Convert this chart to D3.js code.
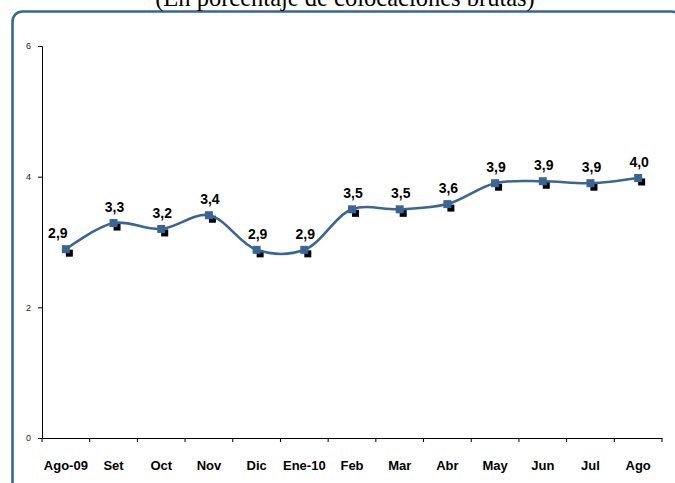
<!DOCTYPE html>
<html>
<head>
<meta charset="utf-8">
<script src="https://cdn.jsdelivr.net/npm/d3@7"></script>
<style>
  html, body { margin: 0; background: #fff; overflow: hidden; }
  svg { display: block; font-family: Arial, "Liberation Sans", sans-serif; }
</style>
</head>
<body>
<svg id="chart" width="675" height="483"></svg>
<script>
// datos
const months = ["Ago-09", "Set", "Oct", "Nov", "Dic", "Ene-10", "Feb", "Mar", "Abr", "May", "Jun", "Jul", "Ago"];
const values = [2.89, 3.29, 3.2, 3.41, 2.88, 2.88, 3.5, 3.5, 3.58, 3.9, 3.93, 3.9, 3.98];
const labels = ["2,9", "3,3", "3,2", "3,4", "2,9", "2,9", "3,5", "3,5", "3,6", "3,9", "3,9", "3,9", "4,0"];
const yTicks = [0, 2, 4, 6];
const title = "(En porcentaje de colocaciones brutas)";

const svg = d3.select("#chart");
const blue = "#3a6597";

// marco redondeado (se sale por la derecha y por abajo)
svg.append("rect")
  .attr("x", 12.5).attr("y", 11.5)
  .attr("width", 669).attr("height", 485)
  .attr("rx", 10)
  .attr("fill", "none")
  .attr("stroke", blue)
  .attr("stroke-width", 2.6);

// titulo (cortado arriba)
svg.append("text")
  .attr("x", 345).attr("y", 6)
  .attr("text-anchor", "middle")
  .style("font-family", "'Liberation Serif', 'Times New Roman', serif")
  .style("font-size", "24.5px")
  .text(title);

const x = d3.scaleBand().domain(months).range([42, 662]);
const y = d3.scaleLinear().domain([0, 6]).range([438, 46]);

// ejes
const yAxis = svg.append("g")
  .attr("transform", "translate(42,0)")
  .call(d3.axisLeft(y).tickValues(yTicks).tickFormat(d3.format("d")).tickSize(4).tickPadding(7));
yAxis.selectAll("text").style("font-size", "9px").attr("fill", "#222");

const xAxis = svg.append("g")
  .attr("transform", "translate(0,438)")
  .call(d3.axisBottom(x).tickSize(0).tickSizeOuter(0).tickPadding(23));
xAxis.selectAll("text").style("font-size", "13px").style("font-weight", "bold").attr("fill", "#000");

// marcas entre categorias
xAxis.selectAll(".sep")
  .data(months.concat([""]))
  .join("line")
  .attr("class", "sep")
  .attr("x1", (d, i) => x.range()[0] + i * x.step())
  .attr("x2", (d, i) => x.range()[0] + i * x.step())
  .attr("y1", 0).attr("y2", 4)
  .attr("stroke", "#000");

svg.selectAll(".domain").attr("stroke", "#000");

const pts = months.map((m, i) => ({ m, v: values[i], lab: labels[i] }));
const cx = d => x(d.m) + x.bandwidth() / 2;

// sombras negras
svg.append("g").selectAll("rect")
  .data(pts)
  .join("rect")
  .attr("x", d => cx(d) - 3.5 + 3.5)
  .attr("y", d => y(d.v) - 3.5 + 4)
  .attr("width", 7).attr("height", 7)
  .attr("fill", "#000");

// linea suavizada
const line = d3.line()
  .x(cx)
  .y(d => y(d.v))
  .curve(d3.curveCatmullRom.alpha(0.5));

svg.append("path")
  .datum(pts)
  .attr("d", line)
  .attr("fill", "none")
  .attr("stroke", blue)
  .attr("stroke-width", 2.6);

// marcadores
svg.append("g").selectAll("rect")
  .data(pts)
  .join("rect")
  .attr("x", d => cx(d) - 4)
  .attr("y", d => y(d.v) - 4)
  .attr("width", 8).attr("height", 8)
  .attr("fill", blue);

// etiquetas
svg.append("g").selectAll("text")
  .data(pts)
  .join("text")
  .attr("x", (d, i) => cx(d) + (i === 0 ? -8 : 1))
  .attr("y", d => y(d.v) - 11)
  .attr("text-anchor", "middle")
  .style("font-size", "14px")
  .style("font-weight", "bold")
  .text(d => d.lab);
</script>
</body>
</html>
